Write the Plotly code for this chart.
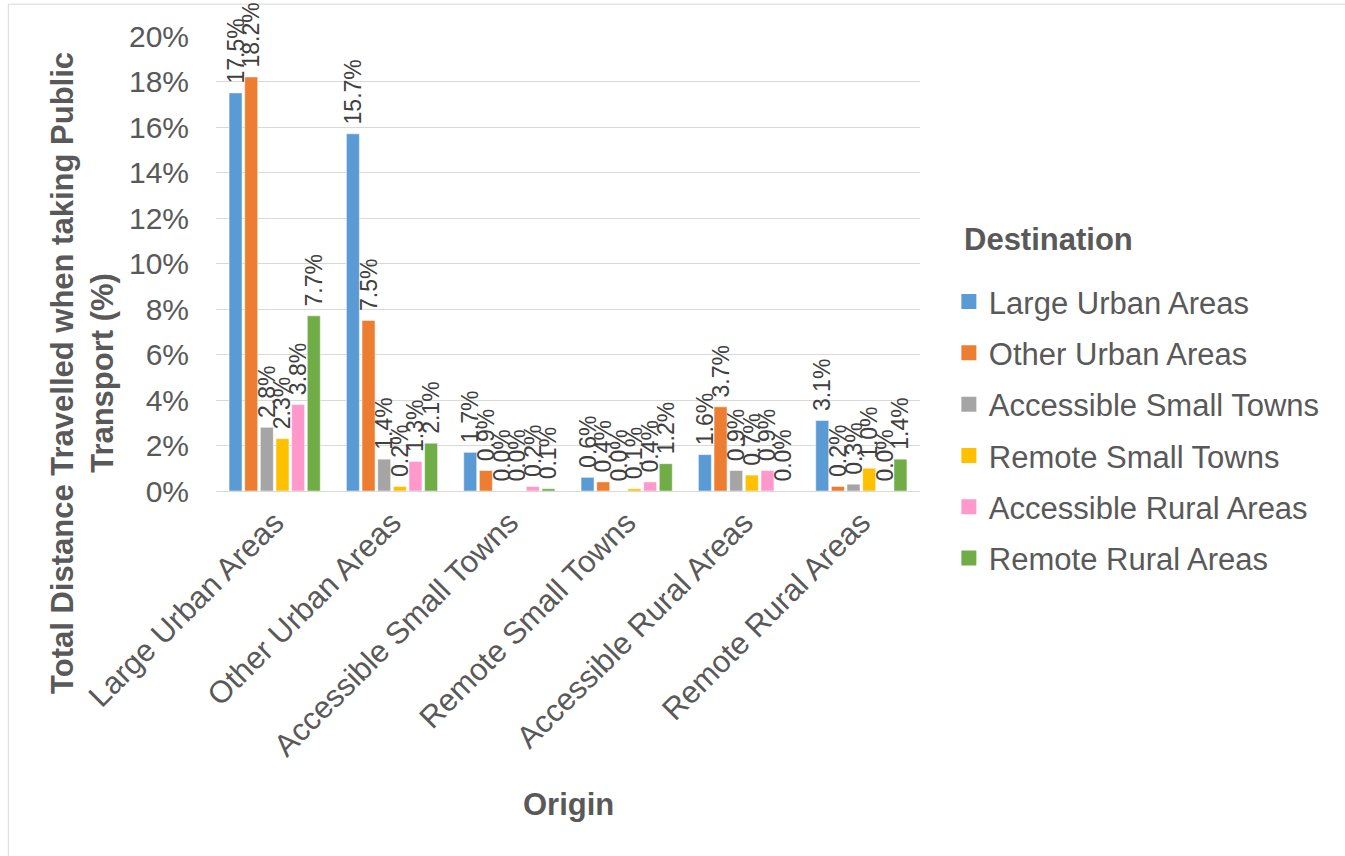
import plotly.graph_objects as go

# Origin areas (x categories)
origins = [
    "Large Urban Areas",
    "Other Urban Areas",
    "Accessible Small Towns",
    "Remote Small Towns",
    "Accessible Rural Areas",
    "Remote Rural Areas",
]

# Share of total distance travelled by public transport, by destination (%)
large_urban = [17.5, 15.7, 1.7, 0.6, 1.6, 3.1]
other_urban = [18.2, 7.5, 0.9, 0.4, 3.7, 0.2]
accessible_small_towns = [2.8, 1.4, 0.0, 0.0, 0.9, 0.3]
remote_small_towns = [2.3, 0.2, 0.0, 0.1, 0.7, 1.0]
accessible_rural = [3.8, 1.3, 0.2, 0.4, 0.9, 0.0]
remote_rural = [7.7, 2.1, 0.1, 1.2, 0.0, 1.4]

y_ticks = [0, 2, 4, 6, 8, 10, 12, 14, 16, 18, 20]

series = [
    ("Large Urban Areas", large_urban, "#5B9BD5"),
    ("Other Urban Areas", other_urban, "#ED7D31"),
    ("Accessible Small Towns", accessible_small_towns, "#A5A5A5"),
    ("Remote Small Towns", remote_small_towns, "#FFC000"),
    ("Accessible Rural Areas", accessible_rural, "#FF99CC"),
    ("Remote Rural Areas", remote_rural, "#70AD47"),
]

FONT = "Liberation Sans, Arial, sans-serif"
GREY = "#595959"
PAD = "\u00a0"  # lifts the rotated value labels a little clear of the bar ends

fig = go.Figure()
for i, (name, vals, color) in enumerate(series):
    fig.add_trace(go.Bar(
        x=origins,
        y=vals,
        name=name,
        showlegend=False,
        marker=dict(color=color, line=dict(color="white", width=0.5)),
        text=[f"{PAD}{v:.1f}%" for v in vals],
        textposition="outside",
        textangle=-90,
        constraintext="none",
        cliponaxis=False,
        textfont=dict(family=FONT, size=23, color="#404040"),
    ))

# Legend entries with larger square swatches
for i, (name, vals, color) in enumerate(series):
    fig.add_trace(go.Scatter(
        x=[None], y=[None],
        mode="markers",
        name=name,
        legendgroup=f"g{i}",
        marker=dict(symbol="square", size=15, color=color),
        showlegend=True,
    ))

fig.update_layout(
    width=1345,
    height=856,
    margin=dict(l=216, r=425, t=36, b=365),
    paper_bgcolor="white",
    plot_bgcolor="white",
    font=dict(family=FONT, color=GREY),
    barmode="group",
    bargap=0.2,
    bargroupgap=0.17,
    showlegend=True,
    legend=dict(
        font=dict(size=31, color=GREY, family=FONT),
        x=1.041,
        xanchor="left",
        y=0.475,
        yanchor="top",
        traceorder="grouped",
        tracegroupgap=8,
        bgcolor="rgba(0,0,0,0)",
    ),
    xaxis=dict(
        tickangle=-45,
        tickfont=dict(size=31, color=GREY, family=FONT),
        showline=True,
        linecolor="#D9D9D9",
        linewidth=1,
        showgrid=False,
    ),
    yaxis=dict(
        range=[0, 20],
        tickvals=y_ticks,
        ticktext=[f"{t}%" for t in y_ticks],
        tickfont=dict(size=30, color=GREY, family=FONT),
        showgrid=True,
        gridcolor="#D9D9D9",
        gridwidth=1,
        zeroline=False,
        ticklabelstandoff=26,
    ),
    shapes=[
        dict(type="rect", xref="paper", yref="paper",
             x0=-0.295, x1=1.65, y0=-0.85, y1=1.07,
             line=dict(color="#D9D9D9", width=1), fillcolor="rgba(0,0,0,0)",
             layer="below"),
    ],
    annotations=[
        dict(text="<b>Total Distance Travelled when taking Public<br>Transport (%)</b>",
             xref="paper", yref="paper", x=-0.19, y=0.26,
             xanchor="center", yanchor="middle", textangle=-90, showarrow=False,
             font=dict(size=31, color=GREY, family=FONT)),
        dict(text="<b>Origin</b>", xref="paper", yref="paper", x=0.5, y=-0.69,
             xanchor="center", yanchor="middle", showarrow=False,
             font=dict(size=31, color=GREY, family=FONT)),
        dict(text="<b>Destination</b>", xref="paper", yref="paper",
             x=(962 - 216) / 704, y=(491 - 240) / 455,
             xanchor="left", yanchor="middle", showarrow=False,
             font=dict(size=31, color=GREY, family=FONT)),
    ],
)

fig.write_html("out.html")
